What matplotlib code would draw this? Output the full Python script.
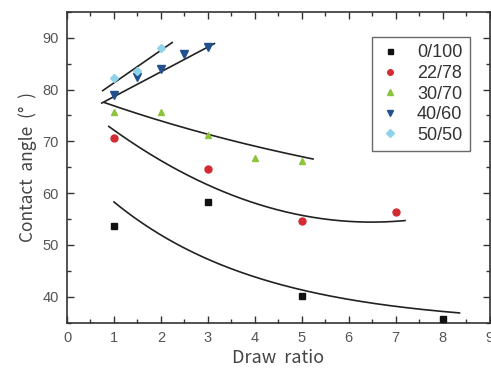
import numpy as np
import matplotlib.pyplot as plt
from matplotlib.ticker import MultipleLocator

# measured contact angles
labels = ['0/100', '22/78', '30/70', '40/60', '50/50']
x_0_100 = [1, 3, 5, 8]
y_0_100 = [53.7, 58.2, 40.2, 35.7]
x_22_78 = [1, 3, 5, 7]
y_22_78 = [70.7, 64.6, 54.7, 56.4]
x_30_70 = [1, 2, 3, 4, 5]
y_30_70 = [75.6, 75.6, 71.3, 66.7, 66.3]
x_40_60 = [1, 1.5, 2, 2.5, 3]
y_40_60 = [79.0, 82.4, 84.0, 86.9, 88.3]
x_50_50 = [1, 1.5, 2]
y_50_50 = [82.2, 83.6, 88.1]

# trend curves (points along each fitted line)
fit_0_100_x = [1.0, 2.0, 3.05, 4.0, 4.96, 7.08, 8.36]
fit_0_100_y = [58.1, 52.2, 47.3, 43.6, 41.0, 38.1, 37.0]
fit_22_78_x = [0.89, 2.03, 3.0, 4.0, 5.0, 6.0, 7.2]
fit_22_78_y = [72.4, 67.0, 61.6, 57.8, 55.3, 54.7, 54.8]
fit_30_70_x = [0.8, 2.08, 3.02, 4.15, 5.24]
fit_30_70_y = [77.4, 74.0, 71.2, 68.6, 66.7]
fit_40_60_x = [0.74, 3.14]
fit_40_60_y = [77.4, 88.9]
fit_50_50_x = [0.76, 2.24]
fit_50_50_y = [79.8, 89.1]

colors = ['#111111', '#d42a32', '#8cc43c', '#22508e', '#8fd3ea']
markers = ['s', 'o', '^', 'v', 'D']
sizes = [4.5, 5, 5, 5.5, 4.5]

plt.rcParams['font.family'] = ['Liberation Sans', 'DejaVu Sans']

fig = plt.figure(figsize=(4.91, 3.71), dpi=100)
ax = fig.add_axes([0.1365, 0.1307, 0.8605, 0.837])


def expdec(xs, ys):
    # y = y0 + A*exp(-x/t), best t picked from a grid, y0 and A by least squares
    xs = np.asarray(xs, float)
    ys = np.asarray(ys, float)
    best = None
    for t in np.linspace(0.3, 20, 800):
        M = np.column_stack([np.ones_like(xs), np.exp(-xs / t)])
        coef, *_ = np.linalg.lstsq(M, ys, rcond=None)
        err = np.sum((M @ coef - ys) ** 2)
        if best is None or err < best[0]:
            best = (err, t, coef)
    _, t, (y0, a) = best
    xx = np.linspace(xs[0], xs[-1], 200)
    return xx, y0 + a * np.exp(-xx / t)


def quad(xs, ys):
    c = np.polyfit(xs, ys, 2)
    xx = np.linspace(xs[0], xs[-1], 200)
    return xx, np.polyval(c, xx)


line_kw = dict(color='#222222', lw=1.2, zorder=2)
for xx, yy in [expdec(fit_0_100_x, fit_0_100_y),
               quad(fit_22_78_x, fit_22_78_y),
               expdec(fit_30_70_x, fit_30_70_y)]:
    ax.plot(xx, yy, **line_kw)
ax.plot(fit_40_60_x, fit_40_60_y, **line_kw)
ax.plot(fit_50_50_x, fit_50_50_y, **line_kw)

series = [(x_0_100, y_0_100), (x_22_78, y_22_78), (x_30_70, y_30_70),
          (x_40_60, y_40_60), (x_50_50, y_50_50)]
for (xs, ys), lab, c, m, s in zip(series, labels, colors, markers, sizes):
    ax.plot(xs, ys, ls='none', marker=m, ms=s, color=c, mec=c, label=lab, zorder=3)

ax.set_xlim(0, 9)
ax.set_ylim(35, 95)
ax.xaxis.set_major_locator(MultipleLocator(1))
ax.xaxis.set_minor_locator(MultipleLocator(0.5))
ax.yaxis.set_major_locator(MultipleLocator(10))
ax.yaxis.set_minor_locator(MultipleLocator(5))
ax.tick_params(which='both', direction='in', top=True, right=True,
               color='#333333', width=1.0, labelsize=10.5, labelcolor='#555555')
ax.tick_params(which='major', length=5, pad=6)
ax.tick_params(which='minor', length=3)
ax.set_yticks([40, 50, 60, 70, 80, 90])
for sp in ax.spines.values():
    sp.set_color('#333333')
    sp.set_linewidth(1.2)

ax.set_xlabel('Draw  ratio', fontsize=13, color='#444444',
              family=['Noto Sans CJK JP', 'DejaVu Sans'], labelpad=3)
ax.set_ylabel('Contact  angle  (°  )', fontsize=12.5, color='#444444',
              family=['Noto Sans CJK JP', 'DejaVu Sans'], labelpad=4)

leg = ax.legend(loc='upper right', bbox_to_anchor=(0.953, 0.919), fontsize=13,
                frameon=True, fancybox=False, edgecolor='#444444',
                handlelength=1.2, handletextpad=0.9, labelspacing=0.2,
                borderpad=0.4, borderaxespad=0, markerscale=0.8)
leg.get_frame().set_linewidth(1.0)
for t in leg.get_texts():
    t.set_color('#333333')

fig.savefig('out.png', dpi=100)
